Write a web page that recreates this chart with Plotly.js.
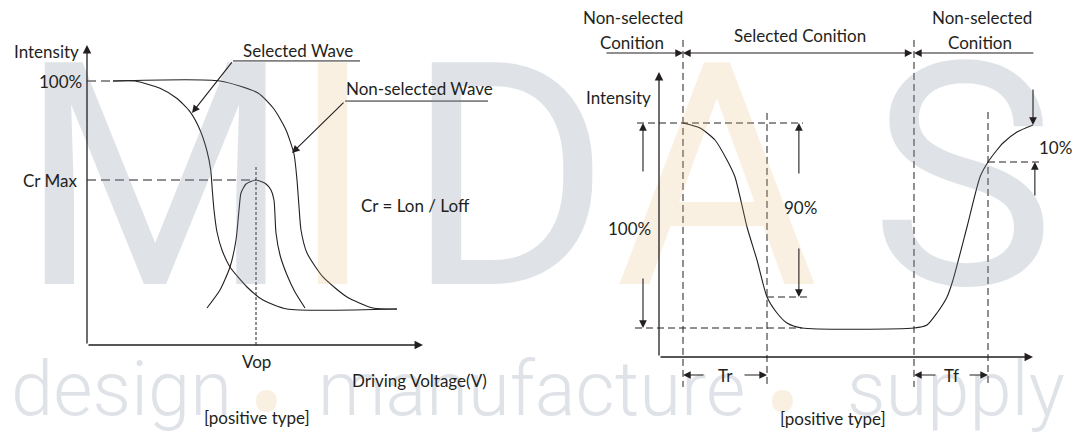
<!DOCTYPE html>
<html><head><meta charset="utf-8">
<script src="https://cdn.plot.ly/plotly-3.0.1.min.js"></script>
<style>html,body{margin:0;padding:0;background:#fff;}#chart{width:1078px;height:441px;}</style>
</head><body><div id="chart"></div>
<script>
// ---------- LEFT PANEL DATA (x: driving voltage, arbitrary units; y: intensity, %) ----------
const selWaveX    = [0.774,1.429,2.173,2.670,3.065,3.363,3.563,3.682,3.729,3.780,3.869,4.018,4.256,4.762,5.238,5.952,9.226];
const selWaveY    = [100,100,97.23,93.45,88.37,81.44,73.86,66.29,58.71,51.14,42.80,35.98,29.55,21.97,17.05,13.64,13.64];
const nonSelWaveX = [0.774,3.958,5.089,5.565,5.923,6.161,6.250,6.310,6.369,6.548,7.024,7.738,8.512,9.226];
const nonSelWaveY = [100,100,95.45,89.39,81.44,72.35,62.50,52.27,43.56,34.85,25.76,18.18,14.02,13.64];
const crCurveX    = [3.571,3.958,4.256,4.435,4.524,4.583,4.732,5.030,5.327,5.476,5.565,5.625,5.744,5.952,6.190,6.488];
const crCurveY    = [14.02,20.83,29.55,39.77,51.14,57.58,60.98,62.50,60.98,58.71,54.92,42.42,34.09,26.52,20.08,14.02];
const leftLevels  = [100, 62.5];          // 100 %, Cr Max
const leftLevelLabels = ['100%', 'Cr Max'];
const vopValue    = 5.03;
const leftAxisEnd = [10, 113.6];          // x arrow end, y arrow end

// ---------- RIGHT PANEL DATA (x: time, arbitrary units; y: intensity) ----------
const respX = [0.642,1.096,1.497,1.818,2.032,2.353,2.620,2.888,3.155,3.422,3.824,6.818,7.166,7.433,7.701,7.861,8.235,8.583,8.797,9.037,9.198,9.572,10.0];
const respY = [100,97.86,92.74,84.19,76.92,55.56,41.45,25.64,18.80,14.53,12.39,12.39,13.68,18.80,25.64,32.91,55.56,76.92,83.33,88.46,91.45,96.15,99.15];
const rightLevels = [100, 12.39, 25.64, 83.33];   // top, bottom, 90 % point, 10 % point
const rightTimes  = [0.642, 2.888, 6.818, 8.797]; // selection start, Tr end, selection end, Tf end
const rightAxisEnd = [10, 121.8];
const conditionLabels = ['Non-selected', 'Conition', 'Selected Conition', 'Non-selected', 'Conition'];
const pctLabels = ['100%', '90%', '10%'];
const timeLabels = ['Tr', 'Tf'];

// ---------- LAYOUT GEOMETRY (pixels) ----------
const W = 1078, H = 441, INK = '#231f20';
const FONT = 'Lato, "Open Sans", sans-serif';
const L = {ox: 87, oy: 345, px: 33.6, py: 2.64, d: [0, 0.5]};
const R = {ox: 659, oy: 357, px: 37.4, py: 2.34, d: [0.5, 1]};
function xr(p){ return [(p.d[0]*W - p.ox)/p.px, (p.d[1]*W - p.ox)/p.px]; }
function yr(p){ return [(p.oy - H)/p.py, p.oy/p.py]; }
const hidden = {showgrid:false, zeroline:false, showticklabels:false, showline:false, ticks:'', fixedrange:true};

const traces = [];
function line(xa, ya, xs, ys, dash, width, shape){
  traces.push({x: xs, y: ys, xaxis: xa, yaxis: ya, mode: 'lines', hoverinfo: 'skip',
    line: {color: INK, width: width || 1, dash: dash || 'solid', shape: shape || 'linear', smoothing: 0.6}});
}
// curves
line('x','y', selWaveX, selWaveY, 'solid', 1.1, 'spline');
line('x','y', nonSelWaveX, nonSelWaveY, 'solid', 1.1, 'spline');
line('x','y', crCurveX, crCurveY, 'solid', 1.1, 'spline');
line('x2','y2', respX, respY, 'solid', 1.1, 'spline');
// left dashed guides
const D1 = '9px,5px', D2 = '3px,2px', D3 = '7px,4px';
line('x','y', [0, selWaveX[0]], [leftLevels[0], leftLevels[0]], D1, 1);
line('x','y', [0, vopValue], [leftLevels[1], leftLevels[1]], D1, 1);
line('x','y', [vopValue, vopValue], [0, 68.2], D2, 1);
// left label underlines
line('x','y', [4.345, 8.125], [107.6, 107.6], 'solid', 1);
line('x','y', [7.679, 11.935], [92.4, 92.4], 'solid', 1);
// right dashed guides
line('x2','y2', [-0.588, 3.85], [rightLevels[0], rightLevels[0]], D3, 1);
line('x2','y2', [-0.642, respX[10]], [rightLevels[1], rightLevels[1]], D3, 1);
line('x2','y2', [rightTimes[1], 3.957], [rightLevels[2], rightLevels[2]], D3, 1);
line('x2','y2', [rightTimes[3], 10.19], [rightLevels[3], rightLevels[3]], D3, 1);
line('x2','y2', [rightTimes[0], rightTimes[0]], [135.5, -12.8], D3, 1);
line('x2','y2', [rightTimes[2], rightTimes[2]], [135.5, -12.8], D3, 1);
line('x2','y2', [rightTimes[1], rightTimes[1]], [104.3, -12.8], D3, 1);
line('x2','y2', [rightTimes[3], rightTimes[3]], [104.7, -12.8], D3, 1);

const ann = [];
// ---------- watermark ----------
const GRAY = 'rgba(127,143,163,0.25)', ORANGE = 'rgba(230,180,110,0.2)';
const wmLetters = ['M','I','D','A','S'];
const wmPos = [0.1438, 0.308, 0.472, 0.665, 0.893];
const wmCol = [GRAY, ORANGE, GRAY, ORANGE, GRAY];
wmLetters.forEach((t,i)=>ann.push({xref:'paper', yref:'paper', x: wmPos[i], y: 0.598, text: t, showarrow:false,
  xanchor:'center', yanchor:'middle', font:{family:'Roboto', weight:400, size:312, color: wmCol[i]}}));
const tagWords = ['design','manufacture','supply'];
const tagPos = [0.113, 0.493, 0.887];
tagWords.forEach((t,i)=>ann.push({xref:'paper', yref:'paper', x: tagPos[i], y: 0.118, text: t, showarrow:false,
  xanchor:'center', yanchor:'middle', font:{family:'Roboto', weight:300, size:76, color: GRAY}}));
const bulletPos = [0.247, 0.726];
bulletPos.forEach(p=>ann.push({xref:'paper', yref:'paper', x: p, y: 0.086, text: '•', showarrow:false,
  xanchor:'center', yanchor:'middle', font:{family:'Roboto', size:104, color: ORANGE}}));

// ---------- arrows ----------
function arrow(xa, ya, tx, ty, hx, hy, opts){
  ann.push(Object.assign({xref:xa, yref:ya, axref:xa, ayref:ya, x:hx, y:hy, ax:tx, ay:ty, text:'',
    showarrow:true, arrowhead:2, arrowsize:1.4, arrowwidth:1.1, arrowcolor:INK, standoff:0}, opts||{}));
}
// axes
arrow('x','y', 0,0, leftAxisEnd[0],0, {arrowwidth:1.3, arrowsize:1.3});
arrow('x','y', 0,0, 0,leftAxisEnd[1], {arrowwidth:1.3, arrowsize:1.3});
arrow('x2','y2', 0,0, rightAxisEnd[0],0, {arrowwidth:1.3, arrowsize:1.3});
arrow('x2','y2', 0,0, 0,rightAxisEnd[1], {arrowwidth:1.3, arrowsize:1.3});
// left leader arrows
arrow('x','y', 4.345,107.6, 3.125,87.9);
arrow('x','y', 7.679,92.4, 6.101,72.7);
// right condition arrows
arrow('x2','y2', -1.444,129.9, rightTimes[0],129.9);
arrow('x2','y2', rightTimes[2],129.9, rightTimes[0],129.9, {arrowside:'end+start', startarrowhead:2, startarrowsize:1.4});
arrow('x2','y2', 10.05,129.9, rightTimes[2],129.9);
// 100 % arrows
arrow('x2','y2', -0.428,78.6, -0.428,rightLevels[0]);
arrow('x2','y2', -0.428,34.2, -0.428,rightLevels[1]);
// 90 % arrows
arrow('x2','y2', 3.74,77.8, 3.74,rightLevels[0]);
arrow('x2','y2', 3.74,47.0, 3.74,rightLevels[2]);
// 10 % arrows
arrow('x2','y2', 10.0,115, 10.0,respY[respY.length-1]);
arrow('x2','y2', 10.05,68.4, 10.05,rightLevels[3]);
// Tr / Tf
arrow('x2','y2', 1.23,-7.7, rightTimes[0],-7.7);
arrow('x2','y2', 2.246,-7.7, rightTimes[1],-7.7);
arrow('x2','y2', 7.433,-7.7, rightTimes[2],-7.7);
arrow('x2','y2', 8.262,-7.7, rightTimes[3],-7.7);

// ---------- labels ----------
function label(xa, ya, x, y, t, xanchor){
  ann.push({xref:xa, yref:ya, x:x, y:y, text:t, showarrow:false, xanchor: xanchor||'center', yanchor:'middle',
    font:{family:FONT, size:17, color:INK}});
}
label('x','y', -1.22, 111, 'Intensity');
label('x','y', -0.089, leftLevels[0], leftLevelLabels[0], 'right');
label('x','y', -1.10, leftLevels[1], leftLevelLabels[1]);
label('x','y', vopValue, -6.1, 'Vop');
label('x','y', 9.91, -13.6, 'Driving Voltage(V)');
label('x','y', 5.06, -27.3, '[positive type]');
label('x','y', 6.28, 111.7, 'Selected Wave');
label('x','y', 9.91, 97.0, 'Non-selected Wave');
label('x','y', 9.762, 53.0, 'Cr = Lon / Loff');

label('x2','y2', -0.695, 144.9, conditionLabels[0]);
label('x2','y2', -0.72, 134.6, conditionLabels[1]);
label('x2','y2', 3.77, 137.6, conditionLabels[2]);
label('x2','y2', 8.64, 144.9, conditionLabels[3]);
label('x2','y2', 8.59, 134.6, conditionLabels[4]);
label('x2','y2', -1.096, 111.1, 'Intensity');
label('x2','y2', -0.80, 55.1, pctLabels[0]);
label('x2','y2', 3.77, 63.7, pctLabels[1]);
label('x2','y2', 10.6, 89.7, pctLabels[2]);
label('x2','y2', (rightTimes[0]+rightTimes[1])/2, -7.7, timeLabels[0]);
label('x2','y2', (rightTimes[2]+rightTimes[3])/2, -7.7, timeLabels[1]);
label('x2','y2', 4.65, -26.1, '[positive type]');

const layout = {
  width: W, height: H, margin: {l:0, r:0, t:0, b:0, pad:0},
  paper_bgcolor: '#ffffff', plot_bgcolor: 'rgba(0,0,0,0)', showlegend: false,
  font: {family: FONT, size: 17, color: INK},
  xaxis: Object.assign({domain: L.d, range: xr(L)}, hidden),
  yaxis: Object.assign({domain: [0,1], range: yr(L)}, hidden),
  xaxis2: Object.assign({domain: R.d, range: xr(R), anchor: 'y2'}, hidden),
  yaxis2: Object.assign({domain: [0,1], range: yr(R), anchor: 'x2'}, hidden),
  annotations: ann
};
Plotly.newPlot('chart', traces, layout, {staticPlot: true, displayModeBar: false});
</script></body></html>
